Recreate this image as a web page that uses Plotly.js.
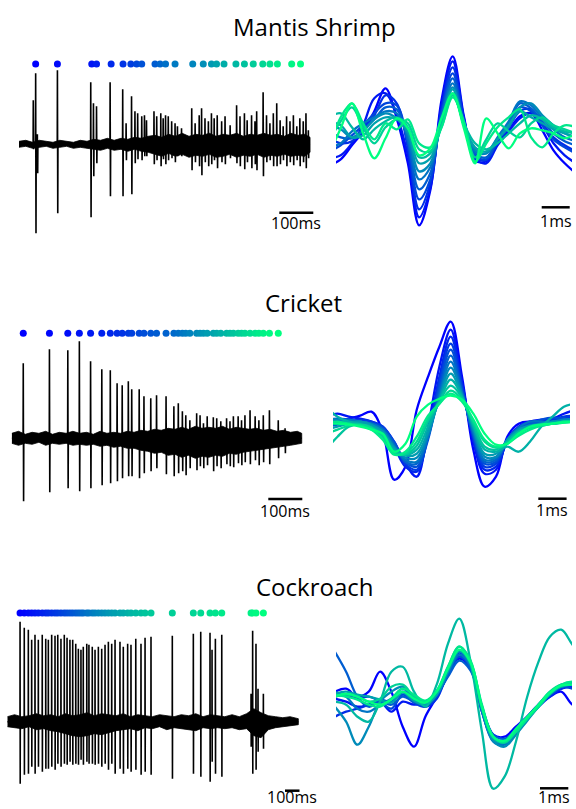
<!DOCTYPE html>
<html><head><meta charset="utf-8">
<script src="https://cdn.plot.ly/plotly-3.0.1.min.js"></script>
<style>html,body{margin:0;padding:0;background:#fff}#chart{width:576px;height:809px}</style>
</head><body><div id="chart"></div>
<script>
// ---------------- DATA ----------------
const titles = ["Mantis Shrimp", "Cricket", "Cockroach"];
const traceScaleLabel = "100ms";
const waveScaleLabel = "1ms";

// Mantis shrimp raw recording: spike times (ms), positive / negative peaks (a.u.)
const mantisSpikeT = [42,49,54,113,211,219,228,268,305,315,331,341,349,361,369,375,397,405,417,424,431,439,449,459,466,478,508,518,530,537,547,557,566,574,583,596,606,621,640,650,663,671,684,694,699,718,728,738,748,758,768,777,787,797,807,817,826,836,844,851];
const mantisSpikeUp = [44,71,10,74,62,41,38,62,55,21,48,33,31,28,29,24,33,28,31,26,29,28,23,21,18,16,36,21,29,36,26,23,31,26,29,23,28,19,39,28,31,24,29,23,33,52,29,21,31,41,24,18,28,23,29,18,26,23,31,14];
const mantisSpikeDown = [-5,-89,-29,-69,-73,-32,-19,-52,-52,-16,-50,-19,-15,-16,-12,-12,-20,-16,-22,-15,-20,-16,-14,-18,-12,-12,-26,-18,-22,-31,-18,-22,-20,-16,-24,-18,-20,-14,-19,-22,-25,-18,-24,-20,-26,-32,-18,-16,-22,-22,-20,-16,-22,-18,-21,-16,-22,-18,-24,-14];
const mantisNoiseT = [0,20,40,60,80,100,120,140,160,180,200,220,240,260,280,300,320,340,360,380,400,420,440,460,480,500,520,540,560,580,600,620,640,660,680,700,720,740,760,780,800,820,840,856];
const mantisNoiseHi = [3,4,2,4,3,2,4,3,2,4,3,5,4,6,4,6,5,7,6,8,9,7,10,8,11,8,10,9,11,8,10,9,11,8,10,9,11,9,10,8,11,9,10,7];
const mantisNoiseLo = [-3,-2,-4,-3,-2,-4,-3,-2,-4,-3,-4,-5,-6,-4,-6,-5,-7,-5,-7,-8,-10,-12,-9,-12,-10,-13,-11,-12,-10,-13,-12,-10,-13,-11,-12,-10,-13,-11,-12,-10,-12,-11,-12,-8];
const mantisDotT = [49,113,214,228,271,306,329,346,361,400,415,431,459,511,542,566,581,603,638,663,689,717,738,760,802,828];
const mantisEndT = 856;

// Cricket raw recording
const cricketSpikeT = [34,111,165,199,232,265,290,310,325,343,353,375,389,409,426,454,477,490,502,512,524,544,554,564,575,593,603,615,632,642,652,666,676,686,701,716,727,740,758,784,804];
const cricketSpikeUp = [75,89,88,97,77,69,68,55,53,57,49,49,42,40,43,42,32,35,27,23,18,25,23,15,22,21,20,17,20,17,22,22,18,23,28,22,18,23,28,18,10];
const cricketSpikeDown = [-63,-54,-50,-53,-50,-47,-45,-43,-40,-38,-38,-40,-35,-33,-30,-36,-38,-35,-33,-37,-30,-32,-28,-30,-27,-33,-28,-30,-26,-28,-29,-25,-27,-24,-26,-22,-27,-24,-26,-20,-15];
const cricketNoiseT = [0,20,40,60,80,100,120,140,160,180,200,220,240,260,280,300,320,340,360,380,400,420,440,460,480,500,520,540,560,580,600,620,640,660,680,700,720,740,760,780,800,820,840,853];
const cricketNoiseHi = [5,7,4,6,5,7,4,6,5,7,5,6,4,7,5,6,5,7,6,8,7,9,8,10,9,11,9,12,10,11,10,12,9,11,10,9,10,8,9,7,8,6,7,5];
const cricketNoiseLo = [-5,-7,-5,-6,-4,-7,-5,-6,-5,-7,-6,-7,-6,-8,-7,-9,-8,-10,-10,-12,-13,-15,-14,-17,-16,-19,-17,-20,-18,-19,-17,-18,-15,-16,-14,-13,-12,-11,-10,-9,-8,-7,-6,-5];
const cricketDotT = [34,111,165,199,232,265,290,310,325,343,353,375,389,409,426,454,477,490,502,512,524,544,554,564,575,593,603,615,632,642,652,666,676,686,701,716,727,740,758,784];
const cricketEndT = 853;

// Cockroach raw recording
const roachSpikeT = [88,117,145,168,191,214,241,265,283,306,329,348,370,393,412,432,451,472,490,508,524,548,563,586,605,628,651,674,697,720,743,777,800,830,853,886,922,950,991,1138,1283,1334,1398,1412,1435,1479,1681,1692,1715,1729,1766];
const roachSpikeUp = [100,94,92,82,87,82,87,83,82,87,86,87,83,87,84,82,82,78,73,72,75,78,77,75,72,75,73,77,80,78,82,80,75,78,77,83,78,84,85,86,88,90,89,72,83,87,28,91,78,33,28];
const roachSpikeDown = [-62,-53,-52,-45,-52,-45,-50,-47,-47,-45,-48,-42,-45,-42,-43,-40,-43,-42,-43,-38,-43,-40,-42,-42,-43,-42,-45,-42,-48,-42,-52,-47,-52,-47,-50,-48,-53,-50,-53,-57,-52,-55,-60,-40,-52,-55,-25,-52,-48,-30,-27];
const roachNoiseT = [0,50,100,150,200,250,300,350,400,450,500,550,600,650,700,750,800,850,900,950,1000,1050,1100,1150,1200,1250,1300,1350,1400,1450,1500,1550,1600,1650,1700,1750,1800,1850,1900,1950,2007];
const roachNoiseHi = [5,7,5,6,8,6,7,5,8,6,7,9,6,8,7,6,8,5,7,6,5,7,6,5,7,6,8,5,7,6,5,7,5,8,13,9,6,5,4,5,3];
const roachNoiseLo = [-5,-6,-7,-5,-8,-7,-9,-10,-12,-14,-15,-14,-12,-13,-11,-9,-8,-7,-9,-6,-7,-5,-8,-6,-7,-8,-9,-6,-7,-6,-7,-6,-8,-7,-14,-16,-8,-6,-5,-4,-3];
const roachDotT = [88,117,145,168,191,214,241,265,283,306,329,348,370,393,412,432,451,472,490,508,524,548,563,586,605,628,651,674,697,720,743,777,800,830,853,886,922,950,991,1138,1283,1334,1398,1435,1479,1681,1692,1715,1766];
const roachEndT = 2007;

// Spike waveforms: sample times (ms, peak at 0) and overlaid waveforms (a.u.), first = earliest spike
const waveT = [-4.4,-4.0,-3.6,-3.2,-2.8,-2.4,-2.0,-1.6,-1.2,-0.8,-0.4,0,0.4,0.8,1.2,1.6,2.0,2.4,2.8,3.2,3.6,4.0,4.4];
const mantisWaves = [
  [-32,-26,-12,2,22,45,15,-30,-92,-57,33,77,17,-27,-28,-10,3,17,20,3,-17,-30,-40],
  [-25,-22,-10,8,35,40,18,-22,-84,-55,28,72,15,-25,-30,-12,2,15,20,8,-10,-22,-30],
  [-5,-10,-8,5,18,38,30,-15,-76,-50,24,66,14,-24,-27,-10,6,22,24,10,-4,-12,-18],
  [-18,-12,-2,8,20,30,28,-10,-66,-46,20,60,12,-22,-26,-8,8,26,22,8,-6,-14,-20],
  [2,-4,-5,4,14,26,24,-8,-56,-40,18,55,10,-20,-24,-6,10,30,25,12,0,-8,-12],
  [-14,-10,2,10,16,22,20,-4,-46,-34,15,50,9,-18,-20,-4,12,32,28,15,4,-4,-8],
  [8,4,-4,2,14,20,15,0,-38,-30,12,46,8,-16,-20,-6,6,26,30,18,8,0,-4],
  [12,8,-4,-2,10,16,14,2,-30,-25,10,44,8,-14,-18,-6,8,22,16,10,4,0,-4],
  [16,20,6,-6,4,12,16,6,-24,-20,8,40,10,-10,-16,-10,0,10,18,14,6,2,0],
  [-6,12,26,6,-10,6,14,10,-16,-18,6,38,10,-24,-6,10,2,-4,10,16,8,4,0],
  [-14,16,30,10,-6,10,4,14,-10,-14,6,36,12,-28,-10,6,16,24,-4,-14,0,8,6],
  [-20,5,30,0,-25,-5,15,5,-22,-15,15,40,5,-30,15,0,-15,0,5,3,0,-5,0]
];
const cricketWaves = [
  [-2,0,3,6,10,-10,-58,-45,12,45,75,100,45,-28,-65,-55,-15,-2,0,-3,0,3,5],
  [5,8,5,3,0,-5,-20,-42,-55,-5,55,92,40,-20,-52,-48,-18,-5,0,2,3,8,12],
  [0,2,0,-2,-3,-8,-25,-45,-50,-12,45,85,38,-18,-48,-45,-20,-8,-3,0,2,3,5],
  [-3,-2,0,2,0,-5,-22,-42,-48,-15,40,78,35,-15,-45,-42,-20,-8,-2,0,2,5,6],
  [2,3,2,0,-2,-6,-20,-40,-45,-18,35,72,32,-14,-42,-40,-18,-6,-2,2,4,3,2],
  [-5,-3,0,0,-3,-8,-22,-40,-42,-15,30,66,30,-12,-40,-38,-20,-8,-3,-2,0,2,3],
  [0,0,2,0,-2,-8,-24,-38,-40,-15,26,60,28,-10,-38,-36,-18,-6,0,0,-2,0,2],
  [3,2,0,0,-4,-10,-25,-36,-36,-12,24,54,28,-8,-35,-35,-20,-10,-5,-3,0,2,3],
  [-8,-5,-2,0,-3,-10,-26,-34,-32,-10,22,48,26,-6,-32,-32,-18,-8,-4,-2,0,0,2],
  [15,5,0,-2,-5,-12,-28,-33,-28,-5,20,42,25,-4,-28,-30,-25,-30,-20,-5,5,15,18],
  [-28,-15,-5,-3,-6,-14,-30,-33,-24,0,20,36,24,-2,-25,-28,-20,-10,-6,-4,-2,-1,0],
  [-12,-8,-4,-3,-6,-15,-32,-32,-20,3,18,31,22,0,-20,-26,-22,-12,-6,-3,-2,0,0],
  [0,0,-2,-4,-8,-18,-33,-30,-15,6,18,28,20,2,-18,-25,-22,-14,-8,-4,-2,0,0],
  [-2,-2,-3,-5,-8,-12,-30,-22,5,17,23,26,22,8,-12,-23,-22,-12,-5,-3,-2,-1,0]
];
const roachWaves = [
  [5,8,0,5,25,5,-30,-50,-20,0,25,38,28,-12,-38,-40,-30,-20,-8,0,5,-8,-10],
  [-2,-5,-10,-8,-5,-15,-5,-8,-5,2,22,40,30,-15,-42,-44,-32,-20,-8,2,8,12,12],
  [-20,-15,-12,-8,-3,-5,5,-3,-10,-2,25,44,30,-12,-40,-45,-35,-22,-10,0,8,10,10],
  [0,2,-2,0,-5,-12,2,-6,-10,0,22,40,28,-15,-44,-47,-35,-22,-10,2,10,8,6],
  [45,25,0,-10,-5,-8,0,-5,-8,2,20,36,26,-10,-38,-42,-33,-20,-8,3,10,12,12],
  [5,0,-12,-15,-8,-2,8,-2,-8,2,24,42,30,-14,-45,-48,-36,-22,-8,4,12,14,12],
  [-10,-25,-48,-30,-5,5,10,0,-6,3,25,45,32,-12,-44,-50,-38,-24,-10,2,10,12,10],
  [3,5,2,0,-3,-6,4,-4,-8,2,26,46,33,-12,-42,-46,-34,-22,-8,4,10,12,10],
  [-5,-8,-20,-25,-5,25,30,5,-10,12,53,78,35,-35,-92,-80,-45,0,35,60,67,52,40],
  [0,2,0,-5,-2,10,12,0,-5,5,30,50,35,-8,-40,-46,-35,-22,-8,5,12,12,10],
  [2,0,-3,-8,-10,-2,8,2,-4,6,30,50,36,-10,-40,-45,-35,-22,-10,3,12,15,12],
  [0,3,0,-5,-8,-3,5,-2,-6,5,28,47,34,-10,-40,-44,-32,-20,-8,4,11,12,10]
];

// ---------------- LAYOUT HELPERS ----------------
const W = 576, H = 809;
function winter(f) { return 'rgb(0,' + Math.round(255 * f) + ',' + Math.round(255 * (1 - 0.5 * f)) + ')'; }
function xdom(a, b) { return [a / W, b / W]; }
function ydom(top, bottom) { return [1 - bottom / H, 1 - top / H]; }

const panels = [
  {box: [19, 320, 50, 240], x0px: 19, pxPerX: 0.34, base: 144.3},
  {box: [336, 572, 50, 240], x0px: 452.7, pxPerX: 28, base: 133.3},
  {box: [11.7, 312, 325, 515], x0px: 11.7, pxPerX: 0.34, base: 438.3},
  {box: [333, 570, 310, 515], x0px: 450.7, pxPerX: 28.3, base: 421.7},
  {box: [7.3, 310, 605, 806], x0px: 7.3, pxPerX: 0.145, base: 721.7},
  {box: [336, 572, 605, 806], x0px: 459.3, pxPerX: 28.3, base: 696.7}
];
function toX(p, px) { return (px - panels[p].x0px) / panels[p].pxPerX; }
function toY(p, py) { return panels[p].base - py; }

const layout = {
  width: W, height: H, margin: {l: 0, r: 0, t: 0, b: 0},
  paper_bgcolor: '#fff', plot_bgcolor: 'rgba(0,0,0,0)', showlegend: false,
  font: {family: 'Open Sans, Noto Sans, sans-serif', color: '#000'},
  shapes: [], annotations: []
};
const hiddenAxis = {showgrid: false, zeroline: false, showline: false, showticklabels: false, ticks: '', fixedrange: true};
panels.forEach((p, i) => {
  const n = i + 1, sx = n === 1 ? 'xaxis' : 'xaxis' + n, sy = n === 1 ? 'yaxis' : 'yaxis' + n;
  const b = p.box;
  layout[sx] = Object.assign({}, hiddenAxis, {domain: xdom(b[0], b[1]), range: [toX(i, b[0]), toX(i, b[1])], anchor: 'y' + (n === 1 ? '' : n)});
  layout[sy] = Object.assign({}, hiddenAxis, {domain: ydom(b[2], b[3]), range: [toY(i, b[3]), toY(i, b[2])], anchor: 'x' + (n === 1 ? '' : n)});
});
function ax(i) { return i === 0 ? ['x', 'y'] : ['x' + (i + 1), 'y' + (i + 1)]; }

const data = [];
function addRecording(pi, T, up, down, endT, nT, nHi, nLo, dots, dotRowPx) {
  const [xa, ya] = ax(pi);
  data.push({type: 'scatter', mode: 'lines', x: nT.concat(nT.slice().reverse()), y: nHi.concat(nLo.slice().reverse()),
    fill: 'toself', fillcolor: '#000', line: {color: '#000', width: 0.8}, xaxis: xa, yaxis: ya, hoverinfo: 'skip'});
  const x = [0], y = [0];
  T.forEach((t, k) => { x.push(t - 0.5, t, t + 1, t + 1.6); y.push(0, up[k], down[k], 0); });
  x.push(endT); y.push(0);
  data.push({type: 'scatter', mode: 'lines', x, y, line: {color: '#000', width: 1.6}, xaxis: xa, yaxis: ya, hoverinfo: 'skip'});
  const rowY = toY(pi, dotRowPx);
  data.push({type: 'scatter', mode: 'markers', x: dots, y: dots.map(() => rowY), cliponaxis: false,
    marker: {size: 7, color: dots.map((_, k) => winter(k / (dots.length - 1)))}, xaxis: xa, yaxis: ya, hoverinfo: 'skip'});
}
function addWaves(pi, waves) {
  const [xa, ya] = ax(pi);
  waves.forEach((w, k) => data.push({type: 'scatter', mode: 'lines', x: waveT, y: w,
    line: {shape: 'spline', smoothing: 1, color: winter(k / (waves.length - 1)), width: 2.3}, xaxis: xa, yaxis: ya, hoverinfo: 'skip'}));
}
addRecording(0, mantisSpikeT, mantisSpikeUp, mantisSpikeDown, mantisEndT, mantisNoiseT, mantisNoiseHi, mantisNoiseLo, mantisDotT, 64);
addWaves(1, mantisWaves);
addRecording(2, cricketSpikeT, cricketSpikeUp, cricketSpikeDown, cricketEndT, cricketNoiseT, cricketNoiseHi, cricketNoiseLo, cricketDotT, 333.3);
addWaves(3, cricketWaves);
addRecording(4, roachSpikeT, roachSpikeUp, roachSpikeDown, roachEndT, roachNoiseT, roachNoiseHi, roachNoiseLo, roachDotT, 613);
addWaves(5, roachWaves);

// scale bars: [panel, bar start px, bar y px, label y px, length in data units, label]
const bars = [
  [0, 279.3, 212.7, 223.5, 100, traceScaleLabel],
  [1, 541.7, 207.3, 221, 1, waveScaleLabel],
  [2, 268.3, 499, 511, 100, traceScaleLabel],
  [3, 538.3, 498.7, 510, 1, waveScaleLabel],
  [4, 285, 790.7, 797, 100, traceScaleLabel],
  [5, 540, 788.3, 797, 1, waveScaleLabel]
];
bars.forEach(b => {
  const [xa, ya] = ax(b[0]);
  const x0 = toX(b[0], b[1]);
  layout.shapes.push({type: 'line', xref: xa, yref: ya, x0: x0, x1: x0 + b[4], y0: toY(b[0], b[2]), y1: toY(b[0], b[2]), line: {color: '#000', width: 2.5}});
  layout.annotations.push({xref: xa, yref: ya, x: x0 + b[4] / 2, y: toY(b[0], b[3]), text: b[5], showarrow: false,
    xanchor: 'center', yanchor: 'middle', font: {size: 16, color: '#000'}});
});
const titlePos = [[314, 27], [303, 302], [314.5, 586]];
titles.forEach((t, i) => layout.annotations.push({xref: 'paper', yref: 'paper', x: titlePos[i][0] / W, y: 1 - titlePos[i][1] / H,
  text: t, showarrow: false, xanchor: 'center', yanchor: 'middle', font: {size: 24, color: '#000'}}));

Plotly.newPlot('chart', data, layout, {staticPlot: true, displayModeBar: false});
</script></body></html>
